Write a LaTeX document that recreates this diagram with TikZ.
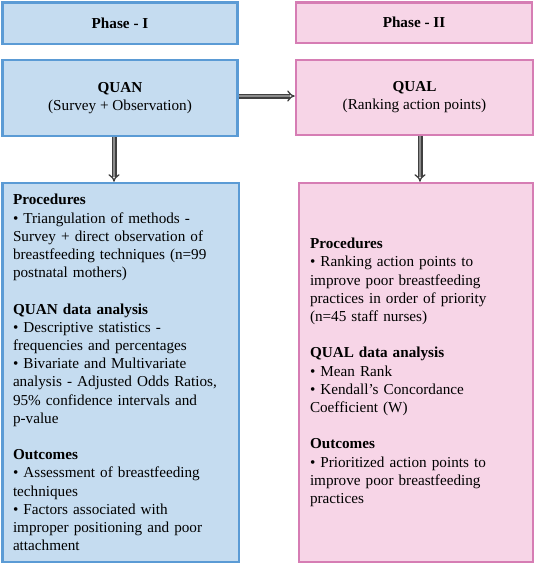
\documentclass[tikz,border=0pt]{standalone}
\usepackage{fontspec}
\setmainfont{Liberation Serif}
\usetikzlibrary{arrows.meta}
\definecolor{bfill}{HTML}{C5DCF0}
\definecolor{bline}{HTML}{5B9BD5}
\definecolor{pfill}{HTML}{F7D5E7}
\definecolor{pline}{HTML}{D67DB4}
\begin{document}
\begin{tikzpicture}[x=1pt,y=-1pt,
  box/.style={rectangle, line width=2.5pt, inner sep=0pt, align=center,
    font=\fontsize{15.2}{18.2}\selectfont},
  bluebox/.style={box, draw=bline, fill=bfill},
  pinkbox/.style={box, draw=pline, fill=pfill},
  arr/.style={draw=black!75, double=black!45, double distance=2.4pt,
    line width=1.3pt, -{Implies}}]
\useasboundingbox (0,0) rectangle (539,566);

\node[bluebox, minimum width=235pt, minimum height=41.5pt] (ph1) at (120,23.25) {\textbf{Phase - I}};
\node[bluebox, minimum width=235pt, minimum height=76pt] (quan) at (120,98) {\textbf{QUAN}\\(Survey + Observation)};
\node[bluebox, minimum width=236.5pt, minimum height=379pt, text width=215.5pt, align=left] (left) at (120.75,372.5)
{\textbf{Procedures}\\
\textbullet\ Triangulation of methods -\\
Survey + direct observation of\\
breastfeeding techniques (n=99\\
postnatal mothers)\\[18.2pt]
\textbf{QUAN data analysis}\\
\textbullet\ Descriptive statistics -\\
frequencies and percentages\\
\textbullet\ Bivariate and Multivariate\\
analysis - Adjusted Odds Ratios,\\
95\% confidence intervals and\\
p-value\\[18.2pt]
\textbf{Outcomes}\\
\textbullet\ Assessment of breastfeeding\\
techniques\\
\textbullet\ Factors associated with\\
improper positioning and poor\\
attachment};

\node[pinkbox, minimum width=236pt, minimum height=40.5pt] (ph2) at (414,22.75) {\textbf{Phase - II}};
\node[pinkbox, minimum width=237pt, minimum height=75pt] (qual) at (414.5,97.5) {\textbf{QUAL}\\(Ranking action points)};
\node[pinkbox, minimum width=234pt, minimum height=379pt, text width=212pt, align=left] (right) at (416,372.5)
{\textbf{Procedures}\\
\textbullet\ Ranking action points to\\
improve poor breastfeeding\\
practices in order of priority\\
(n=45 staff nurses)\\[18.2pt]
\textbf{QUAL data analysis}\\
\textbullet\ Mean Rank\\
\textbullet\ Kendall’s Concordance\\
Coefficient (W)\\[18.2pt]
\textbf{Outcomes}\\
\textbullet\ Prioritized action points to\\
improve poor breastfeeding\\
practices};

\draw[arr] (quan.east |- 0,96) -- (qual.west |- 0,96);
\draw[arr] ([xshift=-6pt]quan.south) -- ([xshift=-6pt]quan.south |- left.north);
\draw[arr] ([xshift=5.5pt]qual.south) -- ([xshift=5.5pt]qual.south |- right.north);
\end{tikzpicture}
\end{document}
